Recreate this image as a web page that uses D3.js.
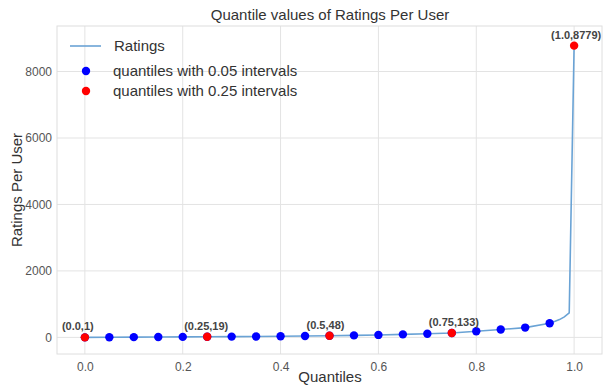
<!DOCTYPE html>
<html>
<head>
<meta charset="utf-8">
<script src="https://cdn.jsdelivr.net/npm/d3@7"></script>
<style>
  body { margin: 0; background: #fff; }
  svg { font-family: "Liberation Sans", Arial, sans-serif; }
  .grid line { stroke: #e3e3e3; stroke-width: 1; }
  .tick text { fill: #555; font-size: 12px; }
</style>
</head>
<body>
<svg id="chart" width="605" height="385"></svg>
<script>
// quantile values
const lineQ = [0, 0.05, 0.1, 0.15, 0.2, 0.25, 0.3, 0.35, 0.4, 0.45, 0.5, 0.55, 0.6, 0.65, 0.7, 0.75, 0.8, 0.85, 0.9, 0.95, 0.96, 0.97, 0.98, 0.99, 1.0];
const lineV = [1, 3, 7, 11, 15, 19, 23, 27, 33, 40, 48, 60, 74, 90, 110, 133, 185, 235, 295, 427, 475, 535, 615, 740, 8779];

const q05 = [0, 0.05, 0.1, 0.15, 0.2, 0.25, 0.3, 0.35, 0.4, 0.45, 0.5, 0.55, 0.6, 0.65, 0.7, 0.75, 0.8, 0.85, 0.9, 0.95];
const v05 = [1, 3, 7, 11, 15, 19, 23, 27, 33, 40, 48, 60, 74, 90, 110, 133, 185, 235, 295, 427];

const q25 = [0, 0.25, 0.5, 0.75, 1.0];
const v25 = [1, 19, 48, 133, 8779];
const labels25 = ["(0.0,1)", "(0.25,19)", "(0.5,48)", "(0.75,133)", "(1.0,8779)"];

const xTicks = [0, 0.2, 0.4, 0.6, 0.8, 1.0];
const yTicks = [0, 2000, 4000, 6000, 8000];

const svg = d3.select("#chart");
const margin = {left: 57, right: 3, top: 26, bottom: 31};
const W = 605, H = 385;

let x = d3.scaleLinear().domain([-0.057, 1.057]).range([margin.left, W - margin.right]);
let y = d3.scaleLinear().domain([-500, 9370]).range([H - margin.bottom, margin.top]);

// grid
svg.append("g").attr("class", "grid")
    .selectAll("line.v").data(xTicks).enter().append("line")
    .attr("x1", d => x(d)).attr("x2", d => x(d))
    .attr("y1", margin.top).attr("y2", H - margin.bottom);
svg.append("g").attr("class", "grid")
    .selectAll("line.h").data(yTicks).enter().append("line")
    .attr("y1", d => y(d)).attr("y2", d => y(d))
    .attr("x1", margin.left).attr("x2", W - margin.right);

// frame
svg.append("rect")
    .attr("x", margin.left).attr("y", margin.top)
    .attr("width", W - margin.right - margin.left)
    .attr("height", H - margin.bottom - margin.top)
    .attr("fill", "none").attr("stroke", "#dedede");

// axes (text only)
let xAxis = d3.axisBottom(x).tickValues(xTicks).tickFormat(d3.format(".1f")).tickSize(0).tickPadding(8);
svg.append("g").attr("transform", "translate(0," + (H - margin.bottom) + ")").call(xAxis)
    .call(g => g.select(".domain").remove());
let yAxis = d3.axisLeft(y).tickValues(yTicks).tickFormat(d3.format("d")).tickSize(0).tickPadding(5);
svg.append("g").attr("transform", "translate(" + margin.left + ",0)").call(yAxis)
    .call(g => g.select(".domain").remove());

// line
let line = d3.line().x((d, i) => x(lineQ[i])).y(d => y(d));
svg.append("path").datum(lineV)
    .attr("d", line).attr("fill", "none")
    .attr("stroke", "#6aa3d5").attr("stroke-width", 1.6);

// 0.05 dots
svg.append("g").selectAll("circle").data(v05).enter().append("circle")
    .attr("cx", (d, i) => x(q05[i])).attr("cy", d => y(d))
    .attr("r", 4.2).attr("fill", "#0000ff");

// 0.25 dots
svg.append("g").selectAll("circle").data(v25).enter().append("circle")
    .attr("cx", (d, i) => x(q25[i])).attr("cy", d => y(d))
    .attr("r", 4.2).attr("fill", "#ff0000");

// annotations
svg.append("g").selectAll("text").data(v25).enter().append("text")
    .attr("x", (d, i) => x(q25[i] - 0.047))
    .attr("y", d => y(d) - 7)
    .attr("font-size", "11px").attr("font-weight", "bold").attr("fill", "#444")
    .text((d, i) => labels25[i]);

// title and labels
svg.append("text").attr("x", 330).attr("y", 20).attr("text-anchor", "middle")
    .attr("font-size", "15px").attr("fill", "#333").text("Quantile values of Ratings Per User");
svg.append("text").attr("x", 330).attr("y", 382).attr("text-anchor", "middle")
    .attr("font-size", "15px").attr("fill", "#333").text("Quantiles");
svg.append("text").attr("transform", "translate(22,190) rotate(-90)").attr("text-anchor", "middle")
    .attr("font-size", "15px").attr("fill", "#333").text("Ratings Per User");

// legend
let leg = svg.append("g").attr("font-size", "15px").attr("fill", "#333");
leg.append("line").attr("x1", 70).attr("x2", 101).attr("y1", 46).attr("y2", 46)
    .attr("stroke", "#6aa3d5").attr("stroke-width", 1.6);
leg.append("text").attr("x", 114).attr("y", 51).text("Ratings");
leg.append("circle").attr("cx", 86).attr("cy", 71).attr("r", 4.2).attr("fill", "#0000ff");
leg.append("text").attr("x", 113).attr("y", 76).text("quantiles with 0.05 intervals");
leg.append("circle").attr("cx", 86).attr("cy", 91).attr("r", 4.2).attr("fill", "#ff0000");
leg.append("text").attr("x", 113).attr("y", 96).text("quantiles with 0.25 intervals");
</script>
</body>
</html>
